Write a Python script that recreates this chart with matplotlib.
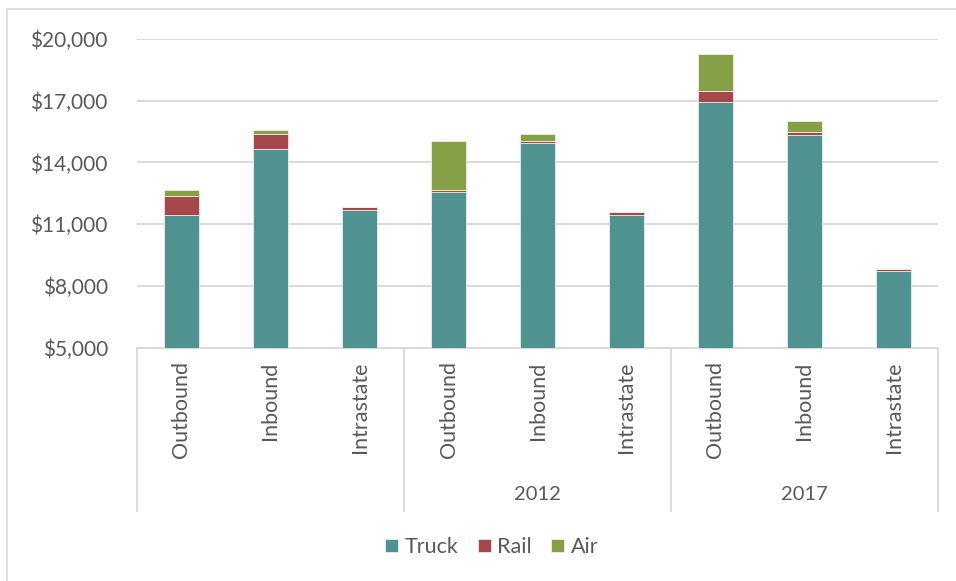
import numpy as np
import matplotlib.pyplot as plt
from matplotlib.patches import Rectangle

# values
directions = ["Outbound", "Inbound", "Intrastate"] * 3
years = ["", "2012", "2017"]
truck = [11450, 14660, 11700, 12560, 14940, 11420, 16960, 15340, 8740]
rail = [895, 730, 130, 110, 110, 180, 520, 160, 90]
air = [325, 190, 0, 2390, 340, 0, 1790, 520, 0]
yticks = [5000, 8000, 11000, 14000, 17000, 20000]

plt.rcParams['font.family'] = ['Lato', 'DejaVu Sans']
txt = '#595959'
grid = '#D9D9D9'

fig = plt.figure(figsize=(9.56, 5.81), dpi=100)
ax = fig.add_axes([137/956, 1-347.5/581, (938-137)/956, (347.5-39)/581])

x = np.arange(len(truck))
truck = np.array(truck)
rail = np.array(rail)
air = np.array(air)
# bars start at the axis floor (5,000), so draw stacked totals
ax.bar(x, truck - 5000, 0.4, bottom=5000, color='#4F9290', edgecolor='#E8F0F0', linewidth=0.6, label='Truck', zorder=3)
ax.bar(x, rail, 0.4, bottom=truck, color='#A4484B', edgecolor='#F0E4E4', linewidth=0.6, label='Rail', zorder=3)
ax.bar(x, air, 0.4, bottom=truck + rail, color='#86A145', edgecolor='#EEF2E4', linewidth=0.6, label='Air', zorder=3)

ax.set_ylim(5000, 20000)
ax.set_xlim(-0.5, len(truck) - 0.5)
ax.set_yticks(yticks)
ax.set_yticklabels([f"${v:,.0f}" for v in yticks])
ax.tick_params(axis='y', length=0, pad=21, labelsize=15, labelcolor=txt)
ax.set_xticks([])
ax.grid(axis='y', color=grid, linewidth=1.4, zorder=0)
for s in ['top', 'right', 'left']:
    ax.spines[s].set_visible(False)
ax.spines['bottom'].set_color(grid)
ax.spines['bottom'].set_linewidth(1.4)

tr = ax.get_xaxis_transform()
for i, name in enumerate(directions):
    ax.text(i, -0.045, name, transform=tr, rotation=90, ha='center', va='top',
            fontsize=15.5, color=txt, clip_on=False)
for g, yr in enumerate(years):
    ax.text(g * 3 + 1, -0.478, yr, transform=tr, ha='center', va='center',
            fontsize=14.5, color=txt, clip_on=False)
for b in [-0.5, 2.5, 5.5, 8.5]:
    ax.plot([b, b], [0, -0.53], transform=tr, color=grid, linewidth=1.4, clip_on=False)

handles, labels = ax.get_legend_handles_labels()
fig.legend(handles, labels, loc='center', bbox_to_anchor=(492/956, 1-547/581), ncol=3,
           frameon=False, fontsize=15.5, labelcolor=txt, handlelength=0.6, handleheight=0.6,
           handletextpad=0.3, columnspacing=0.9)

fig.patches.append(Rectangle((7/956, -0.02), 1.0, 1 - 9/581 + 0.02, transform=fig.transFigure,
                             fill=False, edgecolor=grid, linewidth=1.2))

fig.savefig('out.png', dpi=100)
